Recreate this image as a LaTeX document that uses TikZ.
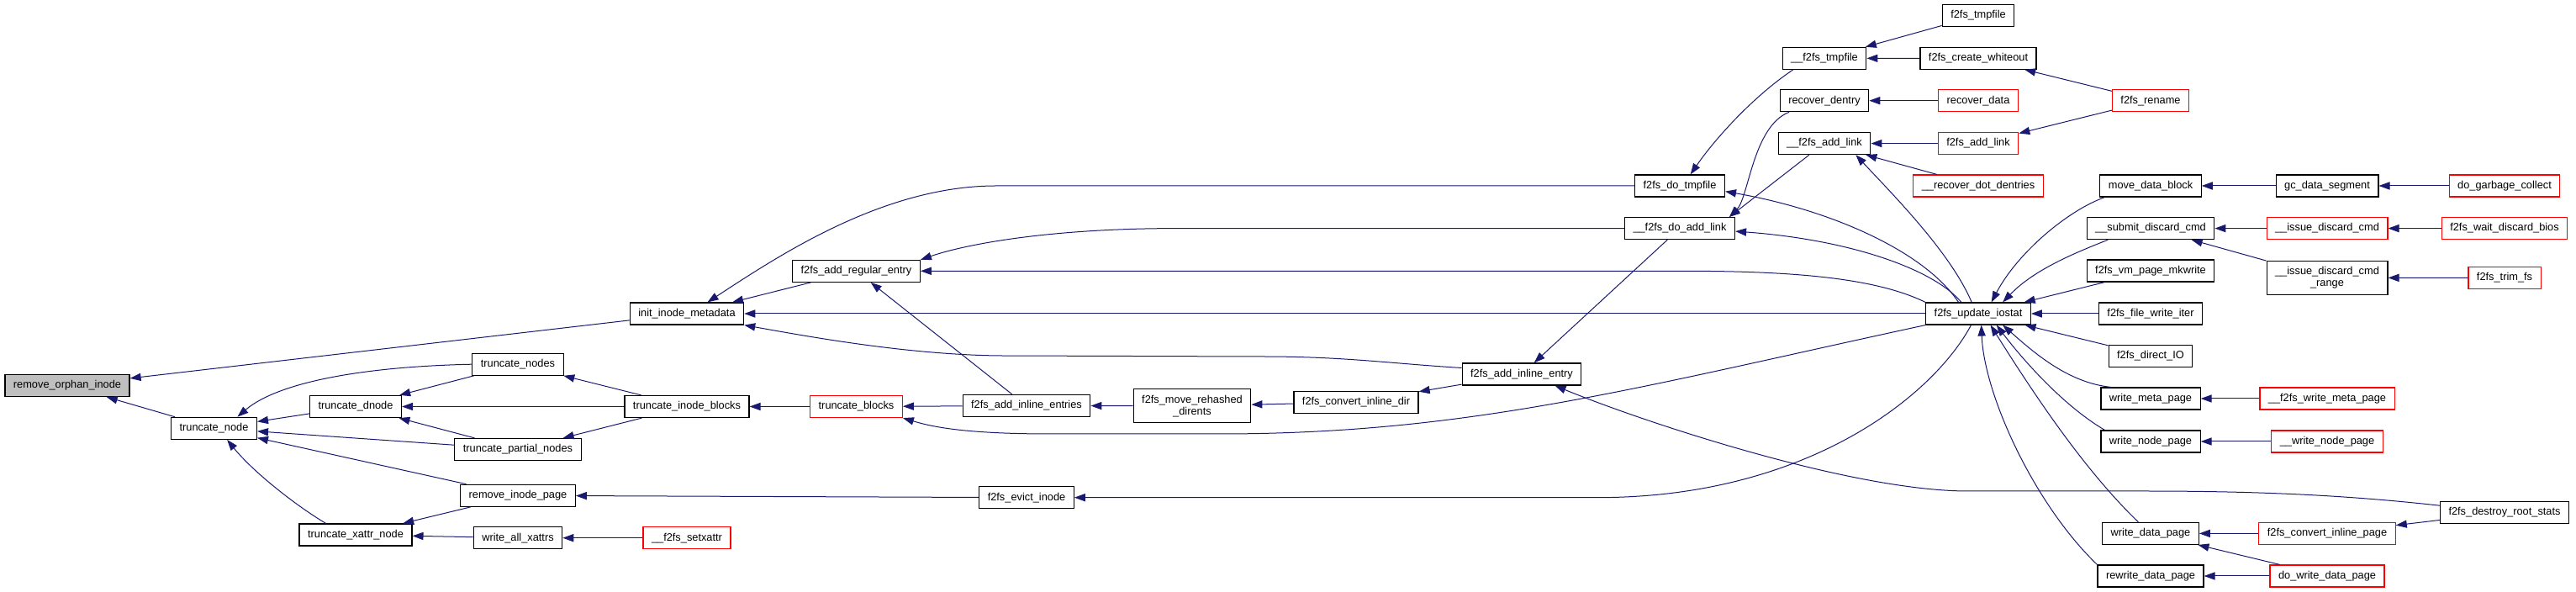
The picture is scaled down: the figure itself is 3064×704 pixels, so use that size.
\documentclass[tikz,border=0pt]{standalone}
\usepackage{fontspec}
\setmainfont{Liberation Sans}
\usetikzlibrary{arrows.meta}
\definecolor{edgeblue}{HTML}{191970}
\definecolor{nodegray}{HTML}{BFBFBF}

\begin{document}
\begin{tikzpicture}[x=0.5pt, y=-0.5pt, font=\fontsize{6.4}{7}\selectfont,
 fn/.style={draw=black, line width=0.6pt, fill=white, minimum height=13pt, inner xsep=5pt, inner ysep=1pt},
 cut/.style={fn, draw=red},
 self/.style={fn, fill=nodegray},
 two/.style={align=center, minimum height=20pt},
 call/.style={-{Triangle[length=6.5pt,width=4.6pt]}, draw=edgeblue, line width=0.5pt}]

 \useasboundingbox (0,0) rectangle (3064,704);

 % --- truncate side ---
 \node[self] (orphan) at (80,458.5) {remove\_orphan\_inode};
 \node[fn] (tnode) at (254.5,509.3) {truncate\_node};
 \node[fn] (tdnode) at (423,483.5) {truncate\_dnode};
 \node[fn] (txattr) at (423,636) {truncate\_xattr\_node};
 \node[fn] (tnodes) at (616,433.2) {truncate\_nodes};
 \node[fn] (tpartial) at (616,534.5) {truncate\_partial\_nodes};
 \node[fn] (rminode) at (616,589.3) {remove\_inode\_page};
 \node[fn] (wxattrs) at (616,639.7) {write\_all\_xattrs};
 \node[fn] (initmeta) at (817,373) {init\_inode\_metadata};
 \node[fn] (tiblocks) at (817,483.5) {truncate\_inode\_blocks};
 \node[cut] (setxattr) at (817,639.7) {\_\_f2fs\_setxattr};
 \node[fn] (addreg) at (1018.5,322.3) {f2fs\_add\_regular\_entry};
 \node[cut] (tblocks) at (1018.5,483.5) {truncate\_blocks};
 \node[fn] (inlents) at (1221,482.5) {f2fs\_add\_inline\_entries};
 \node[fn] (evict) at (1221,591.7) {f2fs\_evict\_inode};
 \node[fn, two] (moverh) at (1418,482.7) {f2fs\_move\_rehashed\\\_dirents};
 \node[fn] (convdir) at (1613,478.4) {f2fs\_convert\_inline\_dir};
 \node[fn] (addinl) at (1810,445) {f2fs\_add\_inline\_entry};

 % --- link / tmpfile side ---
 \node[fn] (dotmp) at (1998,221) {f2fs\_do\_tmpfile};
 \node[fn] (doadd) at (1998,271.6) {\_\_f2fs\_do\_add\_link};
 \node[fn] (tmpf) at (2170,69.4) {\_\_f2fs\_tmpfile};
 \node[fn] (rdentry) at (2170,119.7) {recover\_dentry};
 \node[fn] (addlink) at (2170,170.6) {\_\_f2fs\_add\_link};
 \node[fn] (ftmp) at (2353,18.4) {f2fs\_tmpfile};
 \node[fn] (whiteout) at (2353,69.2) {f2fs\_create\_whiteout};
 \node[cut] (rdata) at (2353,119.7) {recover\_data};
 \node[cut] (faddlink) at (2353,170.6) {f2fs\_add\_link};
 \node[cut] (rdot) at (2353,221) {\_\_recover\_dot\_dentries};
 \node[cut] (rename) at (2558,119.7) {f2fs\_rename};

 % --- iostat callers ---
 \node[fn] (iostat) at (2353,373) {f2fs\_update\_iostat};
 \node[fn] (mdb) at (2558,221) {move\_data\_block};
 \node[fn] (subdisc) at (2558,271.6) {\_\_submit\_discard\_cmd};
 \node[fn] (vmpage) at (2558,322) {f2fs\_vm\_page\_mkwrite};
 \node[fn] (fwiter) at (2558,373) {f2fs\_file\_write\_iter};
 \node[fn] (dio) at (2558,423.2) {f2fs\_direct\_IO};
 \node[fn] (wmeta) at (2558,474) {write\_meta\_page};
 \node[fn] (wnode) at (2558,525) {write\_node\_page};
 \node[fn] (wdata) at (2558,634.4) {write\_data\_page};
 \node[fn] (rwdata) at (2558,685) {rewrite\_data\_page};
 \node[fn] (gcseg) at (2768,221) {gc\_data\_segment};
 \node[cut] (issdisc) at (2768,271.6) {\_\_issue\_discard\_cmd};
 \node[fn, two] (issrange) at (2768,330.3) {\_\_issue\_discard\_cmd\\\_range};
 \node[cut] (fwmeta) at (2768,474) {\_\_f2fs\_write\_meta\_page};
 \node[cut] (uwnode) at (2768,525) {\_\_write\_node\_page};
 \node[cut] (convpage) at (2768,634.4) {f2fs\_convert\_inline\_page};
 \node[cut] (dwdata) at (2768,685) {do\_write\_data\_page};
 \node[cut] (dogc) at (2979,221) {do\_garbage\_collect};
 \node[cut] (waitdisc) at (2979,271.6) {f2fs\_wait\_discard\_bios};
 \node[cut] (trimfs) at (2979,330.5) {f2fs\_trim\_fs};
 \node[fn] (droot) at (2979,609.3) {f2fs\_destroy\_root\_stats};

 % --- calls into truncate side ---
 \draw[call] (initmeta) -- (orphan);
 \draw[call] (tnode) -- (orphan);
 \draw[call] (tdnode) -- (tnode);
 \draw[call] (tnodes.west) .. controls (430,436) and (330,455) .. (tnode.26);
 \draw[call] (tpartial) -- (tnode);
 \draw[call] (rminode) -- (tnode);
 \draw[call] (txattr.159) .. controls (350,600) and (300,560) .. (tnode.-41);
 \draw[call] (tnodes) -- (tdnode);
 \draw[call] (tiblocks) -- (tdnode);
 \draw[call] (tpartial) -- (tdnode);
 \draw[call] (tiblocks) -- (tnodes);
 \draw[call] (tiblocks) -- (tpartial);
 \draw[call] (tblocks) -- (tiblocks);
 \draw[call] (inlents) -- (tblocks);
 \draw[call] (iostat.south west) .. controls (1950,460) and (1750,516) .. (1450,516) -- (1250,516) .. controls (1150,516) and (1110,508) .. (tblocks.south east);
 \draw[call] (moverh) -- (inlents);
 \draw[call] (convdir) -- (moverh);
 \draw[call] (addinl) -- (convdir);
 \draw[call] (doadd) -- (addinl);
 \draw[call] (droot.174) .. controls (2800,590) and (2700,584) .. (2550,584) -- (2341,584) .. controls (2200,584) and (1950,500) .. (addinl.-19);
 \draw[call] (inlents) -- (addreg);
 \draw[call] (addreg) -- (initmeta);
 \draw[call] (dotmp.west) -- (1185,221) .. controls (1050,221) and (925,305) .. (initmeta.29);
 \draw[call] (iostat) -- (initmeta);
 \draw[call] (addinl.174) .. controls (1650,432) and (1600,424) .. (1500,424) -- (1190,423) .. controls (1080,422) and (960,400) .. (initmeta.south east);
 \draw[call] (doadd.west) -- (1400,271.6) .. controls (1250,271.6) and (1150,290) .. (addreg.10);
 \draw[call] (iostat.north west) .. controls (2230,330) and (2130,322.3) .. (2000,322.3) -- (addreg);
 \draw[call] (evict) -- (rminode);
 \draw[call] (rminode) -- (txattr);
 \draw[call] (wxattrs) -- (txattr);
 \draw[call] (setxattr) -- (wxattrs);
 \draw[call] (iostat.-122) .. controls (2300,470) and (2150,591.7) .. (1900,591.7) -- (evict);

 % --- calls into link / tmpfile side ---
 \draw[call] (tmpf.200) .. controls (2085,115) and (2040,165) .. (dotmp.47);
 \draw[call] (iostat.150) .. controls (2290,300) and (2180,250) .. (dotmp.-7);
 \draw[call] (addlink.217) -- (doadd.13);
 \draw[call] (rdentry.198) .. controls (2085,150) and (2080,235) .. (doadd.13);
 \draw[call] (iostat.146) .. controls (2300,320) and (2200,285) .. (doadd.-3);
 \draw[call] (faddlink) -- (addlink);
 \draw[call] (rdot) -- (addlink);
 \draw[call] (iostat.120) .. controls (2320,300) and (2250,230) .. (addlink.-20);
 \draw[call] (ftmp) -- (tmpf);
 \draw[call] (whiteout) -- (tmpf);
 \draw[call] (rename) -- (whiteout);
 \draw[call] (rdata) -- (rdentry);
 \draw[call] (rename) -- (faddlink);

 % --- calls into iostat ---
 \draw[call] (mdb.194) .. controls (2460,250) and (2400,300) .. (iostat.41);
 \draw[call] (subdisc.195) .. controls (2470,300) and (2420,320) .. (iostat.25);
 \draw[call] (vmpage) -- (iostat);
 \draw[call] (fwiter) -- (iostat);
 \draw[call] (dio) -- (iostat);
 \draw[call] (wmeta.164) .. controls (2460,455) and (2420,420) .. (iostat.-25);
 \draw[call] (wnode.166) .. controls (2450,480) and (2400,420) .. (iostat.-32);
 \draw[call] (wdata.137) .. controls (2480,560) and (2420,470) .. (iostat.-43);
 \draw[call] (rwdata.north west) .. controls (2420,600) and (2360,470) .. (iostat.-75);
 \draw[call] (gcseg) -- (mdb);
 \draw[call] (dogc) -- (gcseg);
 \draw[call] (issdisc) -- (subdisc);
 \draw[call] (issrange) -- (subdisc);
 \draw[call] (waitdisc) -- (issdisc);
 \draw[call] (trimfs) -- (issrange);
 \draw[call] (fwmeta) -- (wmeta);
 \draw[call] (uwnode) -- (wnode);
 \draw[call] (convpage) -- (wdata);
 \draw[call] (dwdata) -- (wdata);
 \draw[call] (dwdata) -- (rwdata);
 \draw[call] (droot) -- (convpage);
\end{tikzpicture}
\end{document}
